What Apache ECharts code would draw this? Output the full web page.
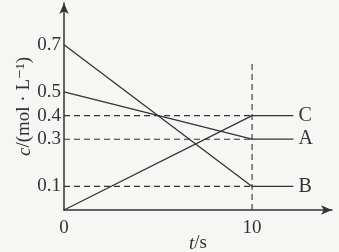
<!DOCTYPE html>
<html><head><meta charset="utf-8">
<script src="https://cdn.jsdelivr.net/npm/echarts@6/dist/echarts.min.js"></script>
<style>html,body{margin:0;padding:0;background:#f6f6f4}#c{width:339px;height:252px}</style>
</head><body><div id="c"></div>
<script>
const times = [0, 10, 12.2];
const seriesA = [0.5, 0.3, 0.3];
const seriesB = [0.7, 0.1, 0.1];
const seriesC = [0, 0.4, 0.4];
const names = ['A', 'B', 'C'];
const yTickLabels = [0.1, 0.3, 0.4, 0.5, 0.7];
const xTickLabels = [0, 10];
const guideLevels = [0.4, 0.3, 0.1];
const guideTime = 10;
const guideTop = 0.636;
const xMax = 14.25, yMax = 0.877;

const ink = '#333333';
const font = '"Liberation Serif", "DejaVu Serif", serif';

function solid(name, vals) {
  return {
    type: 'line', name, symbol: 'none', silent: true,
    data: times.map((t, i) => [t, vals[i]]),
    lineStyle: { color: ink, width: 1.3 },
    endLabel: { show: true, formatter: name, color: ink, fontFamily: font, fontSize: 20, distance: 5 }
  };
}
const series = [solid('A', seriesA), solid('B', seriesB), solid('C', seriesC)];
guideLevels.forEach(v => series.push({
  type: 'line', symbol: 'none', silent: true,
  data: [[0, v], [guideTime, v]],
  lineStyle: { color: ink, width: 1.1, type: [6, 4] }
}));
series.push({
  type: 'line', symbol: 'none', silent: true,
  data: [[guideTime, 0], [guideTime, guideTop]],
  lineStyle: { color: ink, width: 1.1, type: [6, 4] }
});

const nameStyle = { color: ink, fontFamily: font, fontSize: 19,
  rich: { i: { fontStyle: 'italic', fontFamily: font, fontSize: 19, color: ink } } };

const chart = echarts.init(document.getElementById('c'));
chart.setOption({
  animation: false,
  backgroundColor: '#f6f6f4',
  grid: { left: 64, right: 7, top: 3, bottom: 42, containLabel: false, outerBoundsMode: 'none' },
  xAxis: {
    type: 'value', min: 0, max: xMax, interval: 10,
    name: '{i|t}/s', nameLocation: 'middle', nameGap: 24, nameMoveOverlap: false,
    nameTextStyle: nameStyle,
    axisLine: { lineStyle: { color: ink, width: 1.5 }, symbol: ['none', 'arrow'], symbolSize: [7, 11] },
    axisTick: { show: false }, splitLine: { show: false },
    axisLabel: { color: ink, fontFamily: font, fontSize: 19, margin: 9, showMaxLabel: false,
      formatter: v => xTickLabels.includes(v) ? String(v) : '' }
  },
  yAxis: {
    type: 'value', min: 0, max: yMax, interval: 0.1,
    name: '{i|c}/(mol · L⁻¹)', nameLocation: 'middle', nameGap: 30, nameRotate: 90, nameMoveOverlap: false,
    nameTextStyle: nameStyle,
    axisLine: { lineStyle: { color: ink, width: 1.5 }, symbol: ['none', 'arrow'], symbolSize: [7, 11] },
    axisTick: { show: false }, splitLine: { show: false },
    axisLabel: { color: ink, fontFamily: font, fontSize: 19, margin: 3, showMaxLabel: false,
      formatter: v => { const r = Math.round(v * 10) / 10; return yTickLabels.includes(r) ? r.toFixed(1) : ''; } }
  },
  series
});
</script></body></html>
